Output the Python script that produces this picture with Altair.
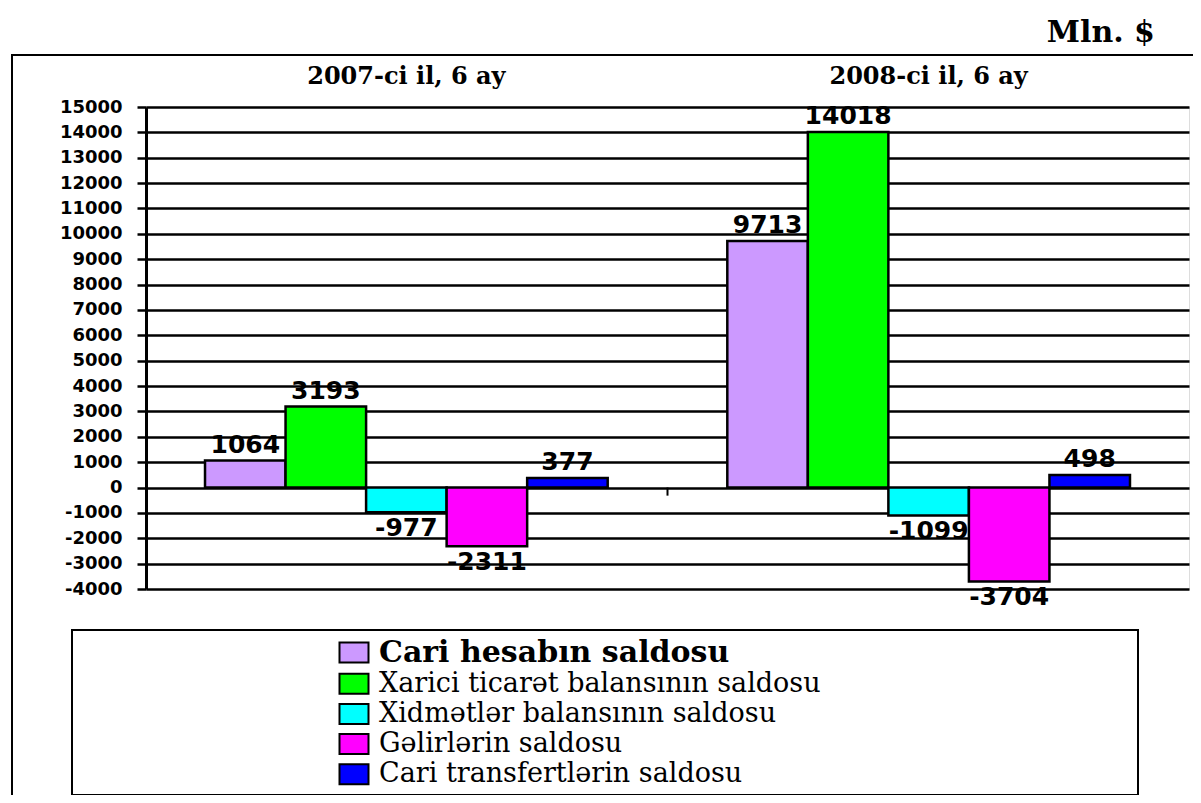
import altair as alt
import pandas as pd

periods = ["2007-ci il,  6 ay", "2008-ci il, 6 ay"]
series = [
    "Cari hesabın saldosu",
    "Xarici ticarət balansının saldosu",
    "Xidmətlər balansının saldosu",
    "Gəlirlərin saldosu",
    "Cari transfertlərin saldosu",
]
values_2007 = [1064, 3193, -977, -2311, 377]
values_2008 = [9713, 14018, -1099, -3704, 498]
colors = ["#CC99FF", "#00FF00", "#00FFFF", "#FF00FF", "#0000FF"]
y_ticks = list(range(-4000, 15001, 1000))
unit_label = "Mln. $"

rows = []
for p, vals in zip(periods, [values_2007, values_2008]):
    for s, v in zip(series, vals):
        rows.append({"period": p, "series": s, "value": v})
df = pd.DataFrame(rows)

W, H = 1043, 482
P_IN, P_OUT = 0.229, 0.113

x_enc = alt.X(
    "period:N",
    sort=periods,
    scale=alt.Scale(paddingInner=P_IN, paddingOuter=P_OUT),
    axis=alt.Axis(
        orient="top", title=None, ticks=False, domain=False, grid=False,
        labelFont="DejaVu Serif", labelFontWeight="bold", labelFontSize=24,
        labelColor="black", labelPadding=24, labelBaseline="alphabetic", labelAngle=0,
        labelLimit=500,
    ),
)
xo_enc = alt.XOffset("series:N", sort=series, scale=alt.Scale(paddingInner=0, paddingOuter=0))
y_enc = alt.Y(
    "value:Q",
    scale=alt.Scale(domain=[-4000, 15000], nice=False, zero=False),
    axis=alt.Axis(
        values=y_ticks, tickCount=len(y_ticks), title=None,
        labelExpr="'' + datum.value", labelOverlap=False,
        labelFont="DejaVu Sans", labelFontWeight="bold", labelFontSize=18, labelColor="black",
        labelPadding=15, tickColor="black", tickSize=9, tickWidth=2.5,
        domainColor="black", domainWidth=3, gridColor="black", gridWidth=2.5,
    ),
)

base = alt.Chart(df).transform_calculate(label="'' + datum.value")

bars = base.mark_bar(stroke="black", strokeWidth=2.5).encode(
    x=x_enc,
    xOffset=xo_enc,
    y=y_enc,
    color=alt.Color(
        "series:N",
        sort=series,
        scale=alt.Scale(domain=series, range=colors),
        legend=alt.Legend(
            orient="none", legendX=194.5, legendY=532, title=None, padding=0,
            symbolType="M-1.45,-1H1.45V1H-1.45Z", symbolSize=400, symbolStrokeColor="black",
            symbolStrokeWidth=2, symbolOpacity=1,
            labelFont="DejaVu Serif",
            labelFontSize={"expr": "datum.value == 'Cari hesabın saldosu' ? 30 : 27"},
            labelFontWeight={"expr": "datum.value == 'Cari hesabın saldosu' ? 'bold' : 'normal'"},
            labelColor="black", labelOffset=11.5, labelLimit=900, rowPadding=1.2,
        ),
    ),
)

pos_labels = base.transform_filter("datum.value >= 0").mark_text(
    baseline="bottom", dy=-3, font="DejaVu Sans", fontWeight="bold", fontSize=25, color="black"
).encode(x=x_enc, xOffset=xo_enc, y=y_enc, text="label:N")

neg_labels = base.transform_filter("datum.value < 0").mark_text(
    baseline="top", dy=4, font="DejaVu Sans", fontWeight="bold", fontSize=25, color="black"
).encode(x=x_enc, xOffset=xo_enc, y=y_enc, text="label:N")

# small category tick between the two groups (at the band boundary)
step = W / (len(periods) - P_IN + 2 * P_OUT)
tick_df = pd.DataFrame({"period": [periods[0]], "y0": [0], "y1": [-320]})
mid_tick = alt.Chart(tick_df).mark_rule(
    color="black", strokeWidth=2, xOffset=step * P_IN / 2
).encode(
    x=alt.X("period:N", sort=periods, bandPosition=1,
            scale=alt.Scale(paddingInner=P_IN, paddingOuter=P_OUT)),
    y=alt.Y("y0:Q"),
    y2="y1:Q",
)

one = pd.DataFrame({"a": [0]})
frame = alt.Chart(one).mark_rect(fillOpacity=0, stroke="black", strokeWidth=2).encode(
    x=alt.value(-134), x2=alt.value(1200), y=alt.value(-52), y2=alt.value(900)
)
legend_box = alt.Chart(one).mark_rect(fill="white", stroke="black", strokeWidth=2).encode(
    x=alt.value(-74), x2=alt.value(992), y=alt.value(523), y2=alt.value(688)
)
unit = alt.Chart(pd.DataFrame({"t": [unit_label]})).mark_text(
    align="right", baseline="alphabetic", font="DejaVu Serif", fontWeight="bold",
    fontSize=30, color="black"
).encode(x=alt.value(1009), y=alt.value(-65), text="t:N")

chart = alt.layer(frame, legend_box, bars, pos_labels, neg_labels, mid_tick, unit).properties(
    width=W, height=H,
    autosize=alt.AutoSizeParams(type="none"),
    padding={"left": 138, "top": 99, "right": 4, "bottom": 206},
).configure_view(stroke="black", strokeWidth=2.5).configure(background="white")

chart.save("out.html", embed_options={"renderer": "svg", "actions": False})
